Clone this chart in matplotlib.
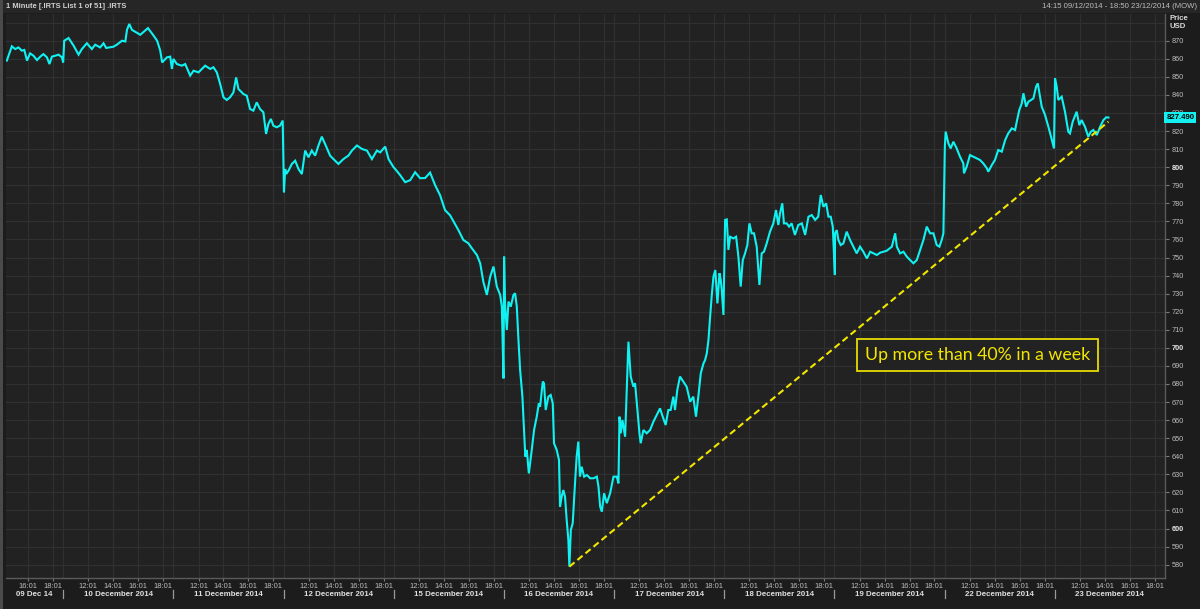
import matplotlib
matplotlib.use("Agg")
import matplotlib.pyplot as plt
from matplotlib.transforms import blended_transform_factory

# ---------------- data ----------------
DAY_LABELS = ["09 Dec 14", "10 December 2014", "11 December 2014", "12 December 2014",
              "15 December 2014", "16 December 2014", "17 December 2014", "18 December 2014",
              "19 December 2014", "22 December 2014", "23 December 2014"]
DAY_OPEN = ["14:15"] + ["10:00"] * 10
DAY_CLOSE = "18:50"
TIME_TICKS = ["12:01", "14:01", "16:01", "18:01"]

T09 = ["14:19", "14:43", "14:59", "15:15", "15:31", "15:43", "15:56", "16:11", "16:27", "16:44",
       "17:00", "17:15", "17:32", "17:44", "17:56", "18:12", "18:28", "18:44", "18:50"]
P09 = [859.0, 866.9, 865.4, 866.3, 864.5, 864.9, 859.0, 863.0, 861.7, 859.3,
       861.2, 862.6, 860.8, 857.1, 861.2, 861.7, 862.3, 860.8, 858.0]

T10 = ["10:05", "10:26", "10:50", "11:14", "11:30", "11:54", "12:18", "12:34", "12:58", "13:14",
       "13:27", "14:02", "14:18", "14:43", "14:59", "15:07", "15:18", "15:31", "16:11", "16:48",
       "17:15", "17:32", "17:47", "17:56", "18:19", "18:35", "18:43", "18:50"]
P10 = [870.0, 871.5, 867.3, 862.3, 865.4, 868.6, 865.4, 867.8, 866.3, 868.6,
       866.0, 866.7, 867.8, 870.0, 869.6, 876.0, 879.3, 876.0, 873.3, 877.0,
       872.8, 870.0, 864.5, 858.0, 860.8, 861.2, 854.4, 859.9]

T11 = ["10:00", "10:17", "10:41", "10:57", "11:21", "11:37", "12:01", "12:25", "12:33", "12:57",
       "13:13", "13:29", "13:45", "14:01", "14:17", "14:33", "14:49", "15:02", "15:13", "15:37",
       "15:53", "16:09", "16:25", "16:41", "16:57", "17:13", "17:26", "17:37", "17:49", "18:01",
       "18:17", "18:33", "18:46"]
P11 = [859.9, 857.1, 856.2, 857.1, 850.7, 853.4, 852.5, 855.3, 856.2, 854.4,
       855.3, 852.5, 846.1, 838.7, 837.2, 838.7, 841.4, 849.7, 843.3, 840.5,
       839.6, 832.2, 831.3, 835.9, 832.2, 830.4, 818.4, 823.9, 826.7, 823.0,
       822.1, 823.0, 825.8]

T12 = ["10:02", "10:08", "10:13", "10:24", "10:40", "10:56", "11:12", "11:28", "11:44", "12:00",
       "12:16", "12:32", "12:48", "13:04", "13:20", "13:44", "14:00", "14:24", "14:48", "15:12",
       "15:29", "15:53", "16:17", "16:41", "17:05", "17:29", "17:45", "18:09", "18:25", "18:49"]
P12 = [786.1, 799.0, 796.2, 798.1, 801.8, 803.6, 799.0, 796.2, 809.2, 805.5,
       809.2, 806.4, 812.0, 816.9, 812.8, 806.4, 804.5, 801.8, 804.5, 806.4,
       809.2, 812.0, 810.1, 809.2, 804.5, 809.2, 808.2, 811.4, 804.5, 800.0]

T15 = ["10:07", "10:31", "10:55", "11:19", "11:43", "12:07", "12:31", "12:55", "13:19", "13:43",
       "14:07", "14:31", "15:11", "15:35", "15:59", "16:16", "16:40", "16:56", "17:11", "17:28",
       "17:44", "18:00", "18:16", "18:32", "18:40", "18:48"]
P15 = [799.0, 795.6, 791.7, 792.8, 797.2, 793.9, 794.0, 797.0, 790.1, 784.5,
       776.2, 773.4, 765.2, 759.7, 757.9, 755.1, 751.4, 746.8, 736.6, 729.3,
       739.4, 745.0, 733.9, 729.3, 722.8, 683.1]

T16 = ["10:01", "10:06", "10:14", "10:22", "10:33", "10:46", "10:54", "11:02", "11:10", "11:18",
       "11:29", "11:37", "11:43", "11:50", "12:00", "12:14", "12:25", "12:38", "12:48", "12:54",
       "13:07", "13:13", "13:21", "13:34", "13:45", "13:55", "14:01", "14:14", "14:25", "14:30",
       "14:38", "14:46", "14:54", "15:02", "15:10", "15:15", "15:22", "15:31", "15:42", "15:50",
       "15:58", "16:06", "16:14", "16:26", "16:39", "16:55", "17:11", "17:27", "17:35", "17:43",
       "17:51", "18:02", "18:15", "18:31", "18:47"]
P16 = [750.5, 722.8, 709.9, 725.6, 722.8, 729.3, 730.2, 722.8, 704.4, 687.8,
       673.0, 654.5, 639.8, 643.5, 630.5, 643.5, 654.5, 661.9, 669.3, 667.4,
       681.3, 680.4, 665.6, 673.0, 673.9, 669.3, 647.2, 643.5, 637.9, 612.1,
       617.6, 621.3, 617.6, 604.7, 593.7, 578.9, 599.2, 602.9, 625.0, 639.8,
       648.1, 628.7, 634.2, 628.7, 629.6, 627.8, 627.8, 628.7, 623.2, 612.1,
       609.3, 619.5, 614.0, 619.5, 628.7]

T17 = ["10:13", "10:21", "10:26", "10:32", "10:40", "10:53", "11:01", "11:09", "11:20", "11:33",
       "11:41", "11:52", "12:02", "12:08", "12:21", "12:37", "12:53", "13:09", "13:25", "13:41",
       "13:54", "14:08", "14:21", "14:32", "14:45", "14:53", "15:04", "15:17", "15:33", "15:49",
       "16:06", "16:21", "16:34", "16:46", "16:57", "17:10", "17:18", "17:26", "17:34", "17:42",
       "17:50", "17:58", "18:07", "18:17", "18:27", "18:33", "18:38", "18:46"]
P17 = [628.7, 625.0, 661.9, 652.7, 660.1, 650.8, 676.7, 703.4, 684.1, 678.5,
       680.4, 665.6, 652.7, 647.2, 654.5, 652.7, 654.5, 659.1, 662.8, 666.5,
       661.9, 657.3, 665.6, 665.6, 673.0, 665.6, 676.7, 684.1, 681.3, 678.5,
       670.2, 673.0, 661.9, 673.9, 685.9, 691.4, 693.3, 697.0, 704.4, 717.3,
       729.3, 739.4, 743.1, 724.6, 741.3, 737.6, 732.0, 718.2]

T18 = ["10:04", "10:12", "10:20", "10:28", "10:44", "10:57", "11:08", "11:19", "11:29", "11:40",
       "11:51", "12:01", "12:12", "12:23", "12:36", "12:49", "13:00", "13:11", "13:24", "13:40",
       "13:56", "14:09", "14:20", "14:28", "14:39", "14:47", "15:00", "15:12", "15:24", "15:40",
       "15:56", "16:13", "16:29", "16:45", "17:01", "17:17", "17:32", "17:44", "17:57", "18:10",
       "18:21", "18:32", "18:42"]
P18 = [770.8, 771.1, 754.2, 761.5, 760.6, 761.5, 750.5, 733.9, 748.6, 752.3,
       756.9, 768.9, 763.4, 763.4, 756.0, 734.8, 752.3, 753.2, 757.8, 764.3,
       768.9, 776.3, 768.0, 774.4, 780.0, 768.9, 768.9, 767.1, 768.9, 762.5,
       768.0, 768.9, 762.5, 772.6, 773.5, 770.8, 772.6, 784.6, 778.1, 780.0,
       772.6, 772.6, 767.1]

T19 = ["10:02", "10:03", "10:11", "10:19", "10:30", "10:43", "10:59", "11:15", "11:31", "11:47",
       "12:03", "12:19", "12:36", "12:52", "13:08", "13:24", "13:40", "13:56", "14:12", "14:36",
       "14:52", "15:00", "15:16", "15:32", "15:48", "16:04", "16:20", "16:36", "16:52", "17:08",
       "17:24", "17:40", "17:56", "18:12", "18:25", "18:36", "18:44"]
P19 = [740.3, 763.4, 765.2, 759.7, 756.9, 757.8, 764.3, 759.7, 756.0, 752.3,
       756.0, 753.2, 749.5, 753.2, 752.3, 751.4, 752.7, 753.2, 753.8, 756.0,
       763.4, 756.0, 752.3, 753.2, 750.5, 748.6, 746.8, 748.6, 754.2, 759.7,
       767.1, 763.4, 763.4, 756.9, 756.0, 759.7, 763.4]

T22 = ["10:01", "10:05", "10:18", "10:29", "10:42", "10:58", "11:14", "11:30", "11:33", "11:46",
       "12:02", "12:18", "12:34", "12:50", "13:06", "13:23", "13:30", "13:47", "14:02", "14:18",
       "14:35", "14:51", "15:06", "15:23", "15:39", "15:47", "15:59", "16:11", "16:19", "16:32",
       "16:43", "16:56", "17:07", "17:20", "17:28", "17:36", "17:47", "18:03", "18:19", "18:36",
       "18:46"]
P22 = [811.3, 819.7, 813.2, 810.4, 814.1, 810.4, 805.8, 802.1, 796.6, 800.3,
       806.7, 805.8, 804.9, 804.0, 802.1, 799.4, 797.5, 801.2, 804.0, 809.5,
       808.6, 815.0, 818.7, 821.5, 820.6, 825.2, 831.6, 835.3, 840.9, 833.5,
       836.3, 837.2, 838.1, 844.6, 846.4, 840.9, 833.5, 828.9, 822.4, 815.0,
       810.4]

T23 = ["10:01", "10:09", "10:17", "10:33", "10:49", "11:05", "11:13", "11:26", "11:45", "11:58",
       "12:09", "12:25", "12:41", "12:53", "13:05", "13:22", "13:38", "13:54", "14:07", "14:18"]
P23 = [849.2, 844.6, 837.2, 839.0, 830.7, 819.6, 818.7, 825.2, 830.7, 823.3,
       826.1, 822.4, 816.9, 819.6, 820.6, 817.8, 822.4, 826.1, 827.6, 827.49]

SERIES_T = [T09, T10, T11, T12, T15, T16, T17, T18, T19, T22, T23]
SERIES_P = [P09, P10, P11, P12, P15, P16, P17, P18, P19, P22, P23]

TREND_DAY = [5, 10]
TREND_TIME = ["15:15", "14:18"]
TREND_PRICE = [578.9, 825.2]

LAST_PRICE = 827.49
NOTE = "Up more than 40% in a week"
NOTE_DAY, NOTE_TIME, NOTE_PRICE = 9, "12:36", 696.0

Y_TICKS = list(range(580, 871, 10))

# ---------------- helpers ----------------
def tmin(s):
    h, m = s.split(":")
    return int(h) * 60 + int(m)

day_len = [tmin(DAY_CLOSE) - tmin(o) for o in DAY_OPEN]
day_start = [sum(day_len[:i]) for i in range(len(day_len))]
total = sum(day_len)

def xpos(i, s):
    return day_start[i] + tmin(s) - tmin(DAY_OPEN[i])

# ---------------- style ----------------
BG = "#1c1c1c"
PLOT_BG = "#222222"
GRID = "#303030"
TXT = "#bcbcbc"
SMALL = ["Liberation Sans", "DejaVu Sans"]

fig = plt.figure(figsize=(12, 6.09), dpi=100, facecolor=BG)
W, H = 1200, 609
ax = fig.add_axes([6 / W, 1 - 578 / H, (1165 - 6) / W, (578 - 14) / H])
ax.set_facecolor(PLOT_BG)

ax.set_xlim(0, total)
ax.set_ylim(572.6, 884.8)

# grid
for yv in Y_TICKS + [880]:
    ax.axhline(yv, color=GRID, lw=0.9, zorder=0)
tick_x, tick_lab = [], []
for i in range(len(DAY_LABELS)):
    for t in TIME_TICKS:
        if tmin(t) > tmin(DAY_OPEN[i]):
            tick_x.append(xpos(i, t))
            tick_lab.append(t)
for xv in tick_x:
    ax.axvline(xv, color=GRID, lw=0.9, zorder=0)
for i in range(1, len(DAY_LABELS)):
    ax.axvline(day_start[i], color=GRID, lw=0.9, zorder=0)

# price line
xs, ys = [], []
for i, (tt, pp) in enumerate(zip(SERIES_T, SERIES_P)):
    for t, p in zip(tt, pp):
        xs.append(xpos(i, t))
        ys.append(p)
ax.plot(xs, ys, color="#10f2f2", lw=1.5, zorder=3, solid_joinstyle="miter")

# trend line
tx = [xpos(d, t) for d, t in zip(TREND_DAY, TREND_TIME)]
ax.plot(tx, TREND_PRICE, color="#f2e600", lw=1.5, ls=(0, (3.2, 1.8)), zorder=4)

# annotation
ax.text(xpos(NOTE_DAY, NOTE_TIME), NOTE_PRICE, NOTE, color="#f2e600", fontsize=12.8,
        family=["Lato", "DejaVu Sans"], ha="center", va="center", zorder=5,
        bbox=dict(boxstyle="square,pad=0.45", fc=PLOT_BG, ec="#e6da00", lw=1.3))

# spines
for s in ["left", "top"]:
    ax.spines[s].set_visible(False)
for s in ["right", "bottom"]:
    ax.spines[s].set_color("#5a5a5a")
    ax.spines[s].set_linewidth(1.0)

# y axis on right
ax.yaxis.tick_right()
ax.set_yticks(Y_TICKS)
ax.set_yticklabels([str(v) for v in Y_TICKS])
ax.tick_params(axis="y", colors="#7a7a7a", length=3, width=0.8, pad=1.5, labelsize=5.3,
               labelcolor=TXT)
for lab, v in zip(ax.get_yticklabels(), Y_TICKS):
    lab.set_family(SMALL)
    if v % 100 == 0:
        lab.set_fontweight("bold")
        lab.set_color("#e4e4e4")

# x axis
ax.set_xticks(tick_x)
ax.set_xticklabels(tick_lab)
ax.tick_params(axis="x", colors="#7a7a7a", length=2.5, width=0.8, pad=1.2, labelsize=5.5,
               labelcolor=TXT)
for lab in ax.get_xticklabels():
    lab.set_family(SMALL)

trans = blended_transform_factory(ax.transData, ax.transAxes)
for i, lab in enumerate(DAY_LABELS):
    mid = day_start[i] + day_len[i] / 2
    ax.text(mid, -0.0285, lab, transform=trans, ha="center", va="center", fontsize=5.7,
            fontweight="bold", color="#e0e0e0", family=SMALL, clip_on=False)
    if i > 0:
        ax.plot([day_start[i], day_start[i]], [-0.021, -0.036], transform=trans,
                color="#9a9a9a", lw=0.9, clip_on=False)

# last price label
ax.text(1.0012, LAST_PRICE, f"{LAST_PRICE:.3f}",
        transform=blended_transform_factory(ax.transAxes, ax.transData),
        ha="left", va="center", fontsize=5.6, fontweight="bold", color="#000000", zorder=10,
        family=SMALL, bbox=dict(boxstyle="square,pad=0.25", fc="#14f0f0", ec="none"),
        clip_on=False)

# header
fig.patches.append(plt.Rectangle((0, 1 - 13 / H), 1, 13 / H, transform=fig.transFigure,
                                 fc="#262626", ec="none", zorder=-1))
fig.text(6 / W, 1 - 7 / H, "1 Minute [.IRTS List 1 of 51] .IRTS", ha="left", va="center",
         fontsize=5.4, fontweight="bold", color="#d0d0d0", family=SMALL)
fig.text(1197 / W, 1 - 7 / H, "14:15 09/12/2014 - 18:50 23/12/2014 (MOW)", ha="right",
         va="center", fontsize=5.6, color="#bcbcbc", family=SMALL)
fig.text(1169 / W, 1 - 18 / H, "Price", ha="left", va="center", fontsize=5.6,
         fontweight="bold", color="#d8d8d8", family=SMALL)
fig.text(1169 / W, 1 - 27 / H, "USD", ha="left", va="center", fontsize=5.6,
         fontweight="bold", color="#d8d8d8", family=SMALL)

# left frame strip
fig.patches.append(plt.Rectangle((0, 0), 3 / W, 1, transform=fig.transFigure,
                                 fc="#4a4a4a", ec="none", zorder=-1))

fig.savefig("out.png", dpi=100, facecolor=BG)
